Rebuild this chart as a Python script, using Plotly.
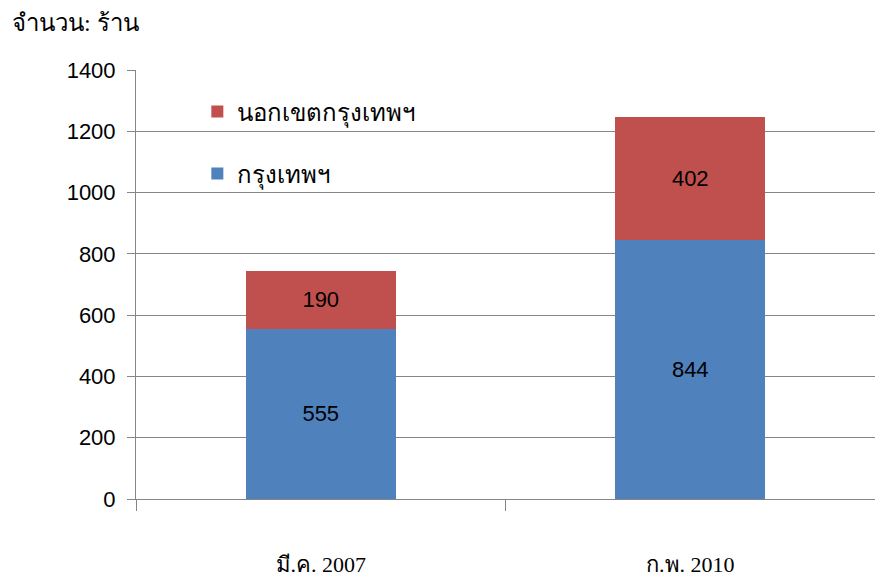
import plotly.graph_objects as go

categories = ["มี.ค. 2007", "ก.พ. 2010"]
bangkok = [555, 844]
outside_bangkok = [190, 402]
series_names = ["กรุงเทพฯ", "นอกเขตกรุงเทพฯ"]
y_ticks = [0, 200, 400, 600, 800, 1000, 1200, 1400]

fig = go.Figure()
fig.add_trace(go.Bar(
    x=categories, y=bangkok, name=series_names[0],
    marker=dict(color="#4F81BD", line=dict(width=0)),
    text=[str(v) for v in bangkok], textposition="inside",
    insidetextanchor="middle", textangle=0,
    textfont=dict(color="black", size=22, family="Liberation Sans, Arial"),
    legendgroup="b", legendrank=2,
))
fig.add_trace(go.Bar(
    x=categories, y=outside_bangkok, name=series_names[1],
    marker=dict(color="#C0504D", line=dict(width=0)),
    text=[str(v) for v in outside_bangkok], textposition="inside",
    insidetextanchor="middle", textangle=0,
    textfont=dict(color="black", size=22, family="Liberation Sans, Arial"),
    legendgroup="a", legendrank=1,
))

fig.update_layout(
    barmode="stack",
    bargap=0.595,
    width=875, height=577,
    margin=dict(l=136, r=0, t=70, b=78),
    plot_bgcolor="white", paper_bgcolor="white",
    font=dict(family="Liberation Sans, Arial", color="black"),
    showlegend=True,
    legend=dict(
        x=0.083, y=0.955, xanchor="left", yanchor="top",
        traceorder="grouped", tracegroupgap=28,
        font=dict(size=24, family="Noto Sans, Liberation Sans"),
        bgcolor="rgba(0,0,0,0)",
    ),
    annotations=[dict(
        text="จำนวน: ร้าน", xref="paper", yref="paper",
        x=-0.17, y=1.075, xanchor="left", yanchor="bottom",
        showarrow=False, font=dict(size=24, family="Liberation Serif, serif"),
    )],
)
fig.update_yaxes(
    range=[0, 1400], tickvals=y_ticks,
    showgrid=True, gridcolor="#868686", gridwidth=1,
    showline=True, linecolor="#868686", linewidth=1,
    ticks="outside", ticklen=8, tickcolor="#868686",
    tickfont=dict(size=22, family="Liberation Sans, Arial"),
    ticklabelstandoff=7,
    zeroline=False, automargin=False,
)
fig.update_xaxes(
    showline=True, linecolor="#868686", linewidth=1,
    ticks="outside", ticklen=11, tickcolor="#868686",
    tickson="boundaries",
    tickfont=dict(size=22, family="Liberation Serif, serif"),
    ticklabelstandoff=46, automargin=False,
)

fig.write_html(
    "out.html",
    config={"displayModeBar": False},
    post_script="document.body.style.margin='0';document.body.style.overflow='hidden';",
)
